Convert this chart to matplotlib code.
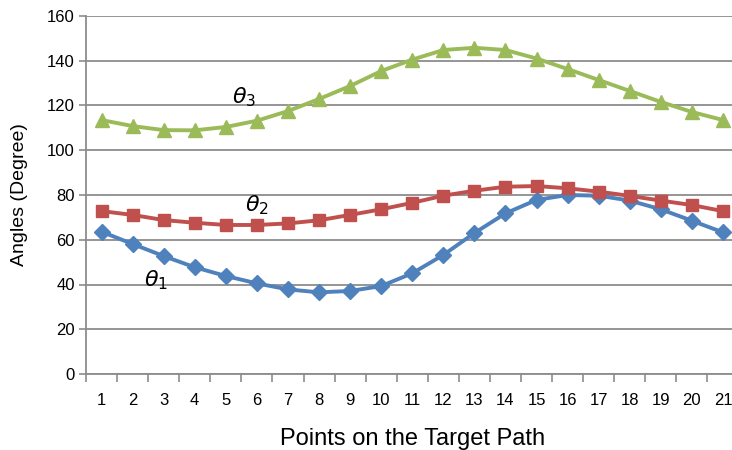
import matplotlib.pyplot as plt
from matplotlib.ticker import FixedLocator

# -----------------------------
# Data
# -----------------------------
points = list(range(1, 22))

theta1 = [63.6, 58.1, 52.7, 47.7, 43.8, 40.5, 37.8, 36.5, 37.1, 39.3, 45.0,
          53.2, 63.0, 71.8, 77.8, 80.0, 79.7, 77.5, 73.6, 68.5, 63.3]
theta2 = [72.8, 71.1, 68.8, 67.6, 66.6, 66.6, 67.3, 68.7, 71.1, 73.6, 76.5,
          79.7, 81.9, 83.7, 84.0, 83.0, 81.5, 79.6, 77.5, 75.5, 72.8]
theta3 = [113.5, 110.8, 109.0, 108.9, 110.4, 113.2, 117.5, 122.9, 128.7, 135.4, 140.5,
          144.8, 145.8, 144.8, 141.0, 136.3, 131.4, 126.5, 121.6, 117.1, 113.5]

series_labels = [r"$\theta_1$", r"$\theta_2$", r"$\theta_3$"]

plt.rcParams["font.family"] = ["Liberation Sans Narrow", "Liberation Sans", "DejaVu Sans"]

fig = plt.figure(figsize=(7.32, 4.5), dpi=100)
ax = fig.add_axes([86 / 732, 1 - 374 / 450, (738.5 - 86) / 732, 358 / 450])

grid_col = "#8c8c8c"

ax.plot(points, theta1, color="#4F81BD", lw=2.8, marker="D", ms=8, zorder=3)
ax.plot(points, theta2, color="#C0504D", lw=2.8, marker="s", ms=8.5, zorder=3)
ax.plot(points, theta3, color="#9BBB59", lw=2.8, marker="^", ms=9.5, zorder=3)

# series labels placed next to curves
ax.text(2.75, 42, series_labels[0], fontsize=16, ha="center", va="center", color="black")
ax.text(6.0, 75.5, series_labels[1], fontsize=16, ha="center", va="center", color="black")
ax.text(5.6, 123.8, series_labels[2], fontsize=16, ha="center", va="center", color="black")

ax.set_xlim(0.5, 21.5)
ax.set_ylim(0, 160)
ax.set_yticks(range(0, 161, 20))
ax.set_xticks(points)
ax.xaxis.set_minor_locator(FixedLocator([i + 0.5 for i in range(0, 22)]))

ax.grid(axis="y", color=grid_col, lw=1.3)
ax.set_axisbelow(True)

for side in ["top", "right"]:
    ax.spines[side].set_visible(False)
for side in ["left", "bottom"]:
    ax.spines[side].set_color(grid_col)
    ax.spines[side].set_linewidth(1.3)

ax.tick_params(axis="x", which="major", length=0, pad=14, labelsize=12)
ax.tick_params(axis="x", which="minor", length=6, width=1.2, color=grid_col, direction="out")
ax.tick_params(axis="y", length=5, width=1.2, color=grid_col, labelsize=12, pad=3)

ax.set_xlabel("Points on the Target Path", fontsize=17, labelpad=14)
ax.set_ylabel("Angles (Degree)", fontsize=14, labelpad=14)

fig.savefig("out.png", dpi=100)
print("Saved: out.png")
